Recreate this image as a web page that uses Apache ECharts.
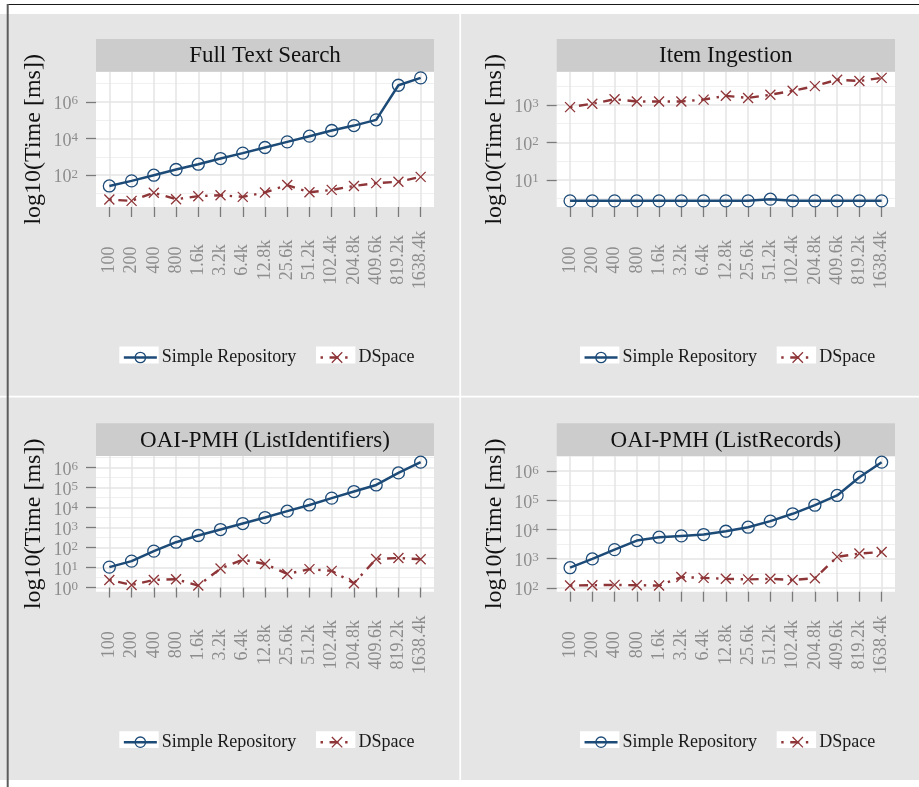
<!DOCTYPE html>
<html><head><meta charset="utf-8">
<script src="https://cdn.jsdelivr.net/npm/echarts@6/dist/echarts.min.js"></script>
<style>html,body{margin:0;padding:0;background:#fff}#c{width:919px;height:787px}</style>
</head><body><div id="c"></div>
<script>
// ---- data (times in ms) ----
const categories = ['100','200','400','800','1.6k','3.2k','6.4k','12.8k','25.6k','51.2k','102.4k','204.8k','409.6k','819.2k','1638.4k'];
const panelTitles = ['Full Text Search','Item Ingestion','OAI-PMH (ListIdentifiers)','OAI-PMH (ListRecords)'];
const seriesNames = ['Simple Repository','DSpace'];
const yAxisTitle = 'log10(Time [ms])';

const fullTextSimple = [26, 49, 100, 205, 400, 810, 1600, 3250, 6600, 13500, 27500, 51000, 105000, 8100000, 20500000];
const fullTextDSpace = [4.7, 4.0, 11, 4.9, 7.2, 8.1, 6.6, 11.5, 29, 11.7, 15.8, 26, 37, 44, 81];
const ingestSimple = [2.75, 2.75, 2.75, 2.75, 2.75, 2.75, 2.75, 2.75, 2.75, 3.05, 2.75, 2.75, 2.75, 2.75, 2.75];
const ingestDSpace = [870, 1070, 1410, 1230, 1230, 1230, 1380, 1740, 1530, 1860, 2370, 3160, 4680, 4320, 5250];
const listIdSimple = [10.5, 21, 66, 185, 400, 794, 1585, 3160, 6600, 13500, 29500, 63000, 135000, 540000, 1860000];
const listIdDSpace = [2.4, 1.35, 2.4, 2.6, 1.26, 8.9, 25, 15, 4.8, 8.3, 6.8, 1.65, 27, 30, 26];
const listRecSimple = [490, 980, 2040, 4170, 5450, 6030, 6700, 8710, 12000, 19400, 34500, 68000, 147000, 620000, 2030000];
const listRecDSpace = [120, 123, 126, 123, 120, 234, 220, 204, 195, 204, 186, 214, 1150, 1500, 1700];

// major y ticks (powers of ten)
const fullTextTicks = [2, 4, 6];
const ingestTicks = [1, 2, 3];
const listIdTicks = [0, 1, 2, 3, 4, 5, 6];
const listRecTicks = [2, 3, 4, 5, 6];

// ---- style / layout ----
const FONT = '"Liberation Serif", "Times New Roman", serif';
const BLUE = '#1d4b78';
const RED = '#8e3538';
const GRID_MAJOR = '#e4e4e4';
const GRID_MINOR = '#f0f0f0';
const TICK = '#7a7a7a';
const LABEL = '#8d8d8d';

const panels = [
  {title: panelTitles[0], simple: fullTextSimple, dspace: fullTextDSpace, majors: fullTextTicks,
   g: {left: 96, top: 71.7, width: 338, height: 135.3}, legendX: 119.3, legendY: 355},
  {title: panelTitles[1], simple: ingestSimple, dspace: ingestDSpace, majors: ingestTicks,
   g: {left: 556.7, top: 71.7, width: 338.3, height: 135.3}, legendX: 580, legendY: 355},
  {title: panelTitles[2], simple: listIdSimple, dspace: listIdDSpace, majors: listIdTicks,
   g: {left: 96, top: 456, width: 338, height: 135.7}, legendX: 119.3, legendY: 739.7},
  {title: panelTitles[3], simple: listRecSimple, dspace: listRecDSpace, majors: listRecTicks,
   g: {left: 556.7, top: 456, width: 338.3, height: 135.7}, legendX: 580, legendY: 739.7}
];

const option = {
  backgroundColor: '#e5e5e5',
  animation: false,
  grid: [], xAxis: [], yAxis: [], series: [], legend: [],
  graphic: [
    {type: 'rect', shape: {x: 0, y: 0, width: 919, height: 14}, style: {fill: '#fff'}, z: 1},
    {type: 'rect', shape: {x: 0, y: 780, width: 919, height: 7}, style: {fill: '#fff'}, z: 1},
    {type: 'rect', shape: {x: 459.3, y: 14, width: 1.8, height: 766}, style: {fill: '#fff'}, z: 1},
    {type: 'rect', shape: {x: 0, y: 395.7, width: 919, height: 1.8}, style: {fill: '#fff'}, z: 1},
    {type: 'line', shape: {x1: 7, y1: 4.5, x2: 919, y2: 4.5}, style: {stroke: '#1a1a1a', lineWidth: 1.2}, z: 2},
    {type: 'line', shape: {x1: 7.7, y1: 4, x2: 7.7, y2: 787}, style: {stroke: '#5c5c5c', lineWidth: 2}, z: 2}
  ]
};

const idx = categories.map((_, j) => j);

panels.forEach((p, i) => {
  const ys = p.simple.map(v => Math.log10(v));
  const yd = p.dspace.map(v => Math.log10(v));
  const all = ys.concat(yd);
  const lo = Math.min(...all), hi = Math.max(...all), pad = 0.05 * (hi - lo);
  const ymin = lo - pad, ymax = hi + pad;
  const step = p.majors[1] - p.majors[0];
  const minors = [];
  for (let k = -1; k < p.majors.length; k++) {
    const v = (k < 0 ? p.majors[0] - step : p.majors[k]) + step / 2;
    if (v >= ymin && v <= ymax) minors.push(v);
  }

  option.grid.push({left: p.g.left, top: p.g.top, width: p.g.width, height: p.g.height,
    show: true, backgroundColor: '#ffffff', borderWidth: 0, containLabel: false, outerBoundsMode: 'none'});

  option.xAxis.push({
    type: 'value', gridIndex: i, min: -0.6, max: categories.length - 0.4, position: 'bottom',
    axisLine: {show: false},
    axisTick: {show: true, customValues: idx, length: 10, lineStyle: {color: TICK, width: 1.3}},
    axisLabel: {customValues: idx, formatter: v => categories[Math.round(v)], rotate: 90,
      align: 'center', verticalAlign: 'middle', margin: 53,
      fontFamily: FONT, fontSize: 18, color: LABEL},
    splitLine: {show: true, lineStyle: {color: GRID_MAJOR, width: 1.5}}
  });

  option.yAxis.push({
    type: 'value', gridIndex: i, min: ymin, max: ymax, position: 'left', offset: 0,
    axisLine: {show: false},
    axisTick: {show: false, customValues: minors},
    axisLabel: {show: false, customValues: minors},
    splitLine: {show: true, lineStyle: {color: GRID_MINOR, width: 1.2}}
  });
  option.yAxis.push({
    type: 'value', gridIndex: i, min: ymin, max: ymax, position: 'left', offset: 0,
    name: yAxisTitle, nameLocation: 'middle', nameGap: 50, nameMoveOverlap: false,
    nameTextStyle: {fontFamily: FONT, fontSize: 24, color: '#111'},
    axisLine: {show: false},
    axisTick: {show: true, customValues: p.majors, length: 10, lineStyle: {color: TICK, width: 1.3}},
    axisLabel: {customValues: p.majors, margin: 18, padding: [5, 0, 0, 0],
      formatter: v => '{b|10}{s|' + Math.round(v) + '}',
      rich: {
        b: {fontFamily: FONT, fontSize: 18, color: LABEL, lineHeight: 20},
        s: {fontFamily: FONT, fontSize: 13, color: LABEL, lineHeight: 12, verticalAlign: 'top'}
      }},
    splitLine: {show: true, lineStyle: {color: GRID_MAJOR, width: 1.5}}
  });

  option.series.push({
    name: seriesNames[0], type: 'line', xAxisIndex: i, yAxisIndex: 2 * i + 1,
    data: ys.map((v, j) => [j, v]),
    symbol: 'circle', symbolSize: 12, showAllSymbol: true,
    itemStyle: {color: 'transparent', borderColor: BLUE, borderWidth: 1.3},
    lineStyle: {color: BLUE, width: 2.5},
    emphasis: {disabled: true}, z: 3
  });
  option.series.push({
    name: seriesNames[1], type: 'line', xAxisIndex: i, yAxisIndex: 2 * i + 1,
    data: yd.map((v, j) => [j, v]),
    symbol: 'path://M0,0L10,10M10,0L0,10', symbolSize: 10, showAllSymbol: true,
    itemStyle: {color: 'transparent', borderColor: RED, borderWidth: 1.3},
    lineStyle: {color: RED, width: 2.4, type: [2.4, 6.6, 9, 6.6]},
    emphasis: {disabled: true}, z: 3
  });

  // strip
  option.graphic.push({type: 'rect', shape: {x: p.g.left, y: p.g.top - 32.7, width: p.g.width, height: 32.7},
    style: {fill: '#cccccc'}, z: 2});
  option.graphic.push({type: 'text', x: p.g.left + p.g.width / 2, y: p.g.top - 15.3,
    style: {text: p.title, fontFamily: FONT, fontSize: 23, fill: '#111',
      align: 'center', verticalAlign: 'middle', textAlign: 'center', textVerticalAlign: 'middle'}, z: 3});

  // legends (one per key) + white key backgrounds
  [0, 1].forEach(k => {
    const kx = p.legendX + k * 196.7;
    option.graphic.push({type: 'rect', shape: {x: kx, y: p.legendY - 8.4, width: 39.4, height: 16.8},
      style: {fill: '#ffffff'}, z: 1});
    option.legend.push({
      data: [seriesNames[k]], left: kx + 3.3, top: p.legendY - 6.5,
      itemWidth: 33, itemHeight: 13, padding: 0, selectedMode: false, z: 10,
      itemStyle: {borderWidth: 1.3},
      lineStyle: {width: 2.5},
      textStyle: {fontFamily: FONT, fontSize: 18, color: '#1a1a1a'}
    });
  });
});

const chart = echarts.init(document.getElementById('c'), null, {renderer: 'canvas'});
chart.setOption(option);
</script>
</body></html>
